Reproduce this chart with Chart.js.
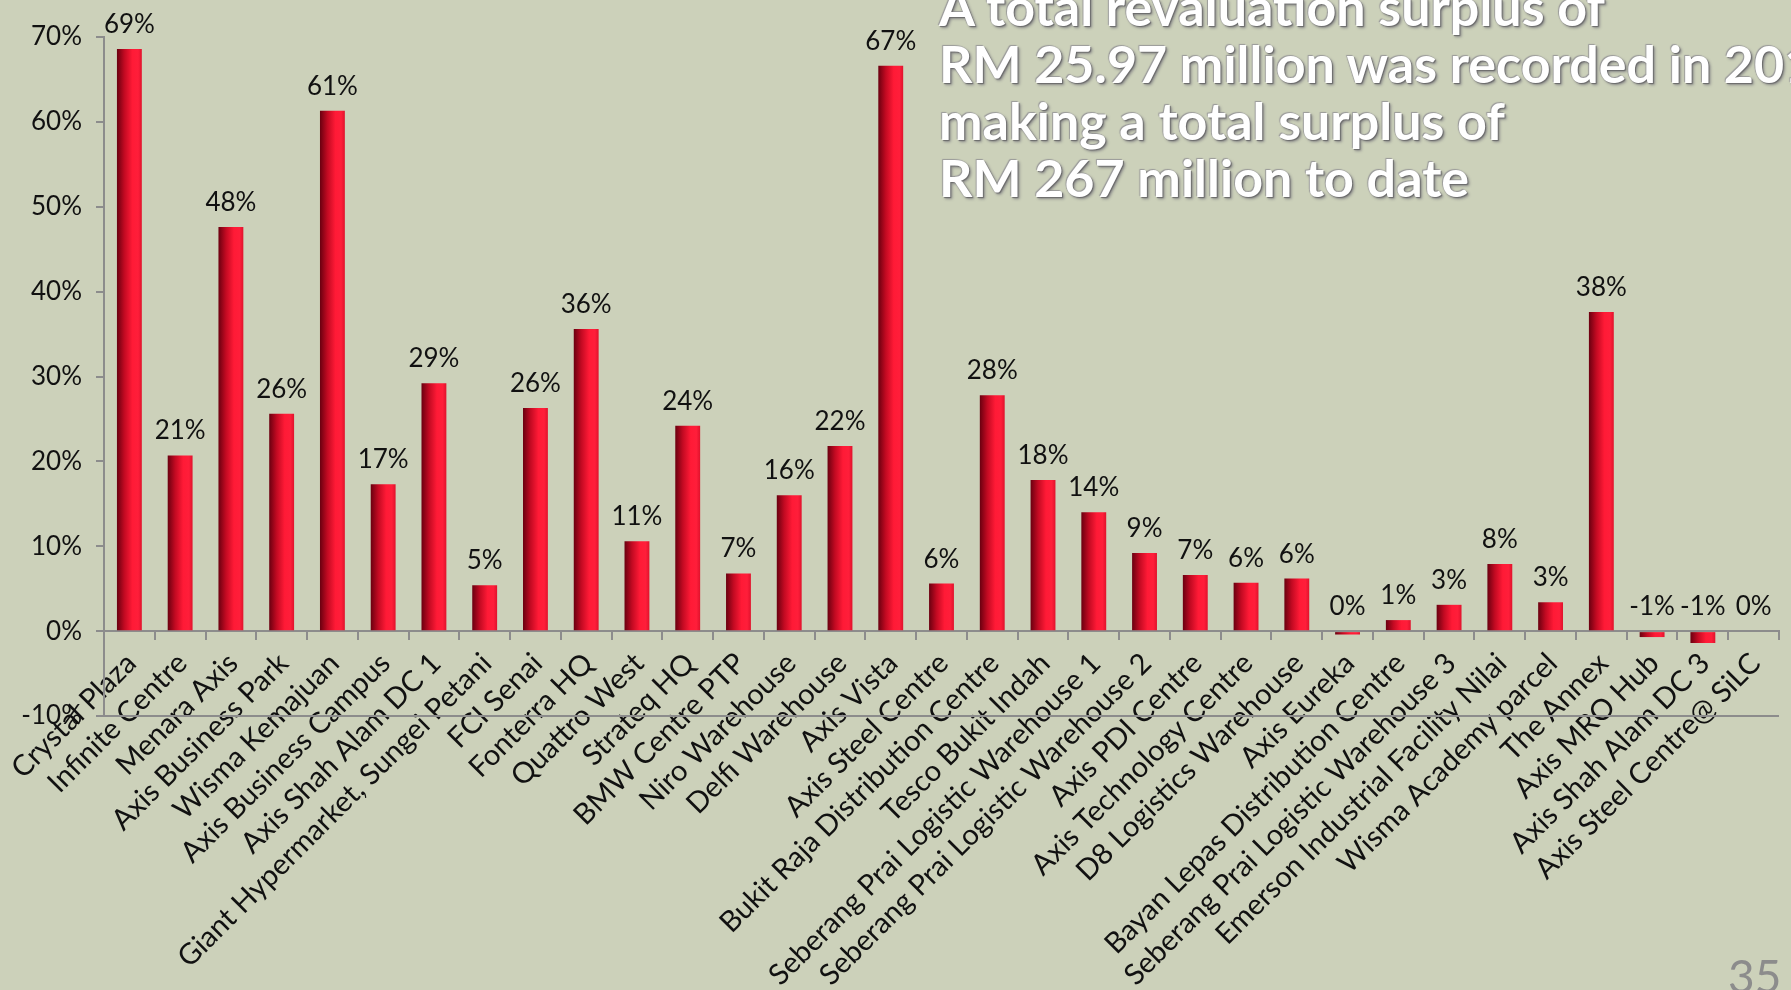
<!DOCTYPE html>
<html>
<head>
<meta charset="utf-8">
<title>Revaluation surplus</title>
<script src="https://cdn.jsdelivr.net/npm/chart.js@4.4.1/dist/chart.umd.min.js"></script>
<style>
  html, body { margin: 0; padding: 0; background: #ccd1ba; overflow: hidden; }
  #wrap { position: relative; width: 1791px; height: 990px; }
  #note {
    position: absolute; left: 939px; top: -22px;
    font-family: 'Lato', sans-serif; font-weight: 700; font-size: 52px;
    line-height: 57px; color: #ffffff; white-space: nowrap;
    text-shadow: 1px 1px 1px #6b6b6b, 2px 2px 3px #8a8a8a, -1px -1px 1px #9a9a9a;
  }
  #page {
    position: absolute; left: 1728px; top: 948px;
    font-family: 'Lato', sans-serif; font-size: 46px; color: #8c8c8c;
  }
</style>
</head>
<body>
<div id="wrap">
  <canvas id="myChart"></canvas>
  <div id="note">A total revaluation surplus of<br>RM 25.97 million was recorded in 2014<br>making a total surplus of<br>RM 267 million to date</div>
  <div id="page">35</div>
</div>
<script>
// property names along the x axis
const properties = [
    'Crystal Plaza', 'Infinite Centre', 'Menara Axis', 'Axis Business Park',
    'Wisma Kemajuan', 'Axis Business Campus', 'Axis Shah Alam DC 1',
    'Giant Hypermarket, Sungei Petani', 'FCI Senai', 'Fonterra HQ', 'Quattro West',
    'Strateq HQ', 'BMW Centre PTP', 'Niro Warehouse', 'Delfi Warehouse', 'Axis Vista',
    'Axis Steel Centre', 'Bukit Raja Distribution Centre', 'Tesco Bukit Indah',
    'Seberang Prai Logistic Warehouse 1', 'Seberang Prai Logistic Warehouse 2',
    'Axis PDI Centre', 'Axis Technology Centre', 'D8 Logistics Warehouse', 'Axis Eureka',
    'Bayan Lepas Distribution Centre', 'Seberang Prai Logistic Warehouse 3',
    'Emerson Industrial Facility Nilai', 'Wisma Academy parcel', 'The Annex',
    'Axis MRO Hub', 'Axis Shah Alam DC 3', 'Axis Steel Centre@ SiLC'
];

// revaluation surplus in %
const surplus = [
    68.6, 20.7, 47.6, 25.6, 61.3, 17.3, 29.2, 5.4, 26.3, 35.6, 10.6,
    24.2, 6.8, 16.0, 21.8, 66.6, 5.6, 27.8, 17.8, 14.0, 9.2,
    6.6, 5.7, 6.2, -0.4, 1.3, 3.1, 7.9, 3.4, 37.6,
    -0.7, -1.4, 0
];

// y axis range and step
const yTicks = [-10, 0, 10, 20, 30, 40, 50, 60, 70];

const FONT = 'Lato, sans-serif';
const AXIS = '#8c8c8c';
const BAR_PCT = 0.49;

// cylinder look: dark left edge, bright right side
function barFill(c) {
    const chart = c.chart;
    const xs = chart.scales && chart.scales.x;
    if (!xs || c.dataIndex === undefined) return '#e8102a';
    const cx = xs.getPixelForValue(c.dataIndex);
    const w = xs.width / properties.length * BAR_PCT;
    if (!isFinite(cx) || !isFinite(w) || w <= 0) return '#e8102a';
    const g = chart.ctx.createLinearGradient(cx - w / 2, 0, cx + w / 2, 0);
    g.addColorStop(0, '#6a0010');
    g.addColorStop(0.3, '#c20a22');
    g.addColorStop(0.62, '#ff1a36');
    g.addColorStop(0.85, '#ff1e3a');
    g.addColorStop(1, '#e0122c');
    return g;
}

// bottom frame line at the lowest y tick
const bottomLine = {
    id: 'bottomLine',
    beforeDatasetsDraw(chart) {
        const { ctx, chartArea } = chart;
        const y = chart.scales.y.getPixelForValue(yTicks[0]);
        ctx.save();
        ctx.strokeStyle = AXIS;
        ctx.lineWidth = 2;
        ctx.beginPath();
        ctx.moveTo(chartArea.left, y);
        ctx.lineTo(chartArea.right, y);
        ctx.stroke();
        ctx.restore();
    }
};

// value labels over the bars
const valueLabels = {
    id: 'valueLabels',
    afterDatasetsDraw(chart) {
        const { ctx } = chart;
        const ys = chart.scales.y;
        const meta = chart.getDatasetMeta(0);
        ctx.save();
        ctx.font = '26px ' + FONT;
        ctx.fillStyle = '#111111';
        ctx.textAlign = 'center';
        ctx.textBaseline = 'alphabetic';
        meta.data.forEach((bar, i) => {
            const v = surplus[i];
            const top = ys.getPixelForValue(Math.max(v, 0));
            ctx.fillText(Math.round(v) + '%', bar.x, top - 16);
        });
        ctx.restore();
    }
};

const ctx = document.getElementById('myChart').getContext('2d');
ctx.canvas.width = 1791;
ctx.canvas.height = 990;

const chart = new Chart(ctx, {
    type: 'bar',
    data: {
        labels: properties,
        datasets: [{
            data: surplus,
            backgroundColor: barFill,
            categoryPercentage: 1,
            barPercentage: BAR_PCT,
        }],
    },
    options: {
        responsive: false,
        animation: false,
        layout: {
            padding: { top: 37, right: 12, bottom: 274, left: 0 },
        },
        plugins: {
            legend: { display: false },
            tooltip: { enabled: false },
        },
        scales: {
            x: {
                position: { y: 0 },
                grid: {
                    drawOnChartArea: false,
                    drawTicks: true,
                    tickLength: 8,
                    color: AXIS,
                    lineWidth: 2,
                },
                border: { display: true, color: AXIS, width: 2 },
                ticks: {
                    autoSkip: false,
                    maxRotation: 45,
                    minRotation: 45,
                    padding: 7,
                    labelOffset: 2,
                    color: '#111111',
                    font: { family: FONT, size: 29 },
                },
            },
            y: {
                min: yTicks[0],
                max: yTicks[yTicks.length - 1],
                afterBuildTicks(scale) {
                    scale.ticks = yTicks.map(v => ({ value: v }));
                },
                grid: {
                    drawOnChartArea: false,
                    tickColor: AXIS,
                    tickLength: 8,
                    lineWidth: 2,
                },
                border: { display: true, color: AXIS, width: 2 },
                ticks: {
                    padding: 14,
                    color: '#111111',
                    font: { family: FONT, size: 26 },
                    callback: (v) => v + '%',
                },
                afterFit(scale) {
                    scale.width = 104;
                },
            },
        },
    },
    plugins: [bottomLine, valueLabels],
});
</script>
</body>
</html>
